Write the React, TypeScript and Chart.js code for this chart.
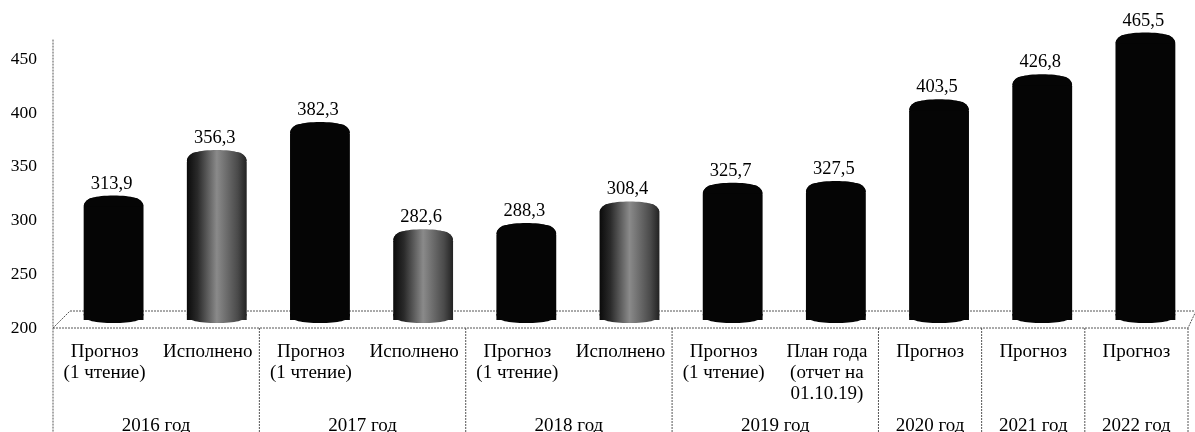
import React, { useEffect, useRef } from "react";
import { Chart, registerables } from "chart.js";

Chart.register(...registerables);

const categories = [
  ["Прогноз", "(1 чтение)"], ["Исполнено"],
  ["Прогноз", "(1 чтение)"], ["Исполнено"],
  ["Прогноз", "(1 чтение)"], ["Исполнено"],
  ["Прогноз", "(1 чтение)"], ["План года", "(отчет на", "01.10.19)"],
  ["Прогноз"], ["Прогноз"], ["Прогноз"],
];
const values = [313.9, 356.3, 382.3, 282.6, 288.3, 308.4, 325.7, 327.5, 403.5, 426.8, 465.5];
const greyBars = [false, true, false, true, false, true, false, false, false, false, false];
const yearLabels = ["2016 год", "2017 год", "2018 год", "2019 год", "2020 год", "2021 год", "2022 год"];
const yearSpans = [2, 2, 2, 2, 1, 1, 1];

const FONT = '"Liberation Serif", serif';
const LINE = "#555555";

function fillFor(ctx: CanvasRenderingContext2D, x: number, w: number, i: number) {
  if (!greyBars[i]) return "#050505";
  const g = ctx.createLinearGradient(x - w / 2, 0, x + w / 2, 0);
  g.addColorStop(0, "#0a0a0a");
  g.addColorStop(0.18, "#2a2a2a");
  g.addColorStop(0.5, "#8a8a8a");
  g.addColorStop(0.85, "#4a4a4a");
  g.addColorStop(1, "#222222");
  return g;
}

const cylinderPlugin = {
  id: "cylinder",
  afterDatasetsDraw(chart: any) {
    const { ctx } = chart;
    const meta = chart.getDatasetMeta(0);
    const base = chart.scales.y.getPixelForValue(200);
    meta.data.forEach((bar: any, i: number) => {
      const rx = bar.width / 2;
      const cx = bar.x;
      ctx.save();
      ctx.fillStyle = fillFor(ctx, cx, bar.width, i);
      ctx.beginPath();
      ctx.moveTo(cx - rx, bar.y + 9);
      ctx.bezierCurveTo(cx - rx, bar.y + 1, cx - rx * 0.6, bar.y - 2, cx, bar.y - 2);
      ctx.bezierCurveTo(cx + rx * 0.6, bar.y - 2, cx + rx, bar.y + 1, cx + rx, bar.y + 9);
      ctx.closePath();
      ctx.fill();
      ctx.beginPath();
      ctx.moveTo(cx - rx, base - 6);
      ctx.bezierCurveTo(cx - rx, base + 1, cx - rx * 0.6, base + 3, cx, base + 3);
      ctx.bezierCurveTo(cx + rx * 0.6, base + 3, cx + rx, base + 1, cx + rx, base - 6);
      ctx.closePath();
      ctx.fill();
      ctx.fillStyle = "#000000";
      ctx.font = `18.5px ${FONT}`;
      ctx.textAlign = "center";
      ctx.textBaseline = "alphabetic";
      ctx.fillText(values[i].toFixed(1).replace(".", ","), cx - 2, bar.y - 9);
      ctx.restore();
    });
  },
};

const framePlugin = {
  id: "frame",
  beforeDatasetsDraw(chart: any) {
    const { ctx } = chart;
    const x = chart.scales.x;
    const y = chart.scales.y;
    const step = x.getPixelForValue(1) - x.getPixelForValue(0);
    const depth = 9;
    const left = x.left - depth;
    const right = x.right - depth;
    const front = y.bottom + 8;
    const back = y.bottom - 9;
    ctx.save();
    ctx.strokeStyle = LINE;
    ctx.lineWidth = 1;
    ctx.setLineDash([2, 1]);
    const seg = (a: number, b: number, c: number, d: number) => {
      ctx.beginPath();
      ctx.moveTo(a, b);
      ctx.lineTo(c, d);
      ctx.stroke();
    };
    seg(left, y.getPixelForValue(465.5) + 5, left, chart.height);
    seg(left, front, left + 17, back);
    seg(left + 17, back, right + 8, back);
    seg(right + 8, back, right, front);
    seg(left, front, right, front);
    let index = 0;
    ctx.fillStyle = "#000000";
    ctx.font = `19px ${FONT}`;
    ctx.textAlign = "center";
    ctx.textBaseline = "alphabetic";
    yearLabels.forEach((label, i) => {
      const start = left + index * step;
      index += yearSpans[i];
      const end = left + index * step;
      seg(end, front, end, chart.height);
      ctx.fillText(label, (start + end) / 2, 431);
    });
    ctx.restore();
  },
};

export default function App() {
  const ref = useRef<HTMLCanvasElement>(null);
  useEffect(() => {
    document.body.style.margin = "0";
    const chart = new Chart(ref.current!, {
      type: "bar",
      data: {
        labels: categories as any,
        datasets: [
          {
            data: values,
            barPercentage: 0.58,
            categoryPercentage: 1,
            borderRadius: { topLeft: 10, topRight: 10, bottomLeft: 8, bottomRight: 8 },
            borderSkipped: false,
            backgroundColor: (c: any) => {
              const sc = c.chart.scales.x;
              const w = (sc.width / values.length) * 0.58;
              return fillFor(c.chart.ctx, sc.getPixelForValue(c.dataIndex), w, c.dataIndex);
            },
          },
        ],
      },
      options: {
        animation: false,
        responsive: false,
        layout: { padding: { top: 19, left: 0, right: 0, bottom: 0 } },
        plugins: { legend: { display: false }, title: { display: false }, tooltip: { enabled: false } },
        scales: {
          x: {
            grid: { display: false },
            border: { display: false },
            afterFit: (s: any) => { s.height = 112; s.paddingTop = 0; s.paddingBottom = 0; s.paddingLeft = 0; s.paddingRight = 0; },
            ticks: {
              autoSkip: false,
              maxRotation: 0,
              padding: 14,
              labelOffset: -9,
              color: "#000000",
              font: { family: FONT, size: 19, lineHeight: 1.1 },
            },
          },
          y: {
            min: 200,
            max: 480,
            grid: { display: false, drawTicks: false },
            border: { display: false },
            afterFit: (s: any) => { s.width = 62; s.paddingTop = 0; s.paddingBottom = 0; },
            ticks: {
              stepSize: 50,
              includeBounds: false,
              padding: 25,
              labelOffset: 8,
              color: "#000000",
              font: { family: FONT, size: 17.5 },
            },
          },
        },
      },
      plugins: [framePlugin, cylinderPlugin],
    });
    return () => chart.destroy();
  }, []);
  return (
    <div style={{ width: 1195, height: 432, overflow: "hidden", background: "#ffffff" }}>
      <canvas ref={ref} width={1197} height={432} style={{ display: "block" }} />
    </div>
  );
}
